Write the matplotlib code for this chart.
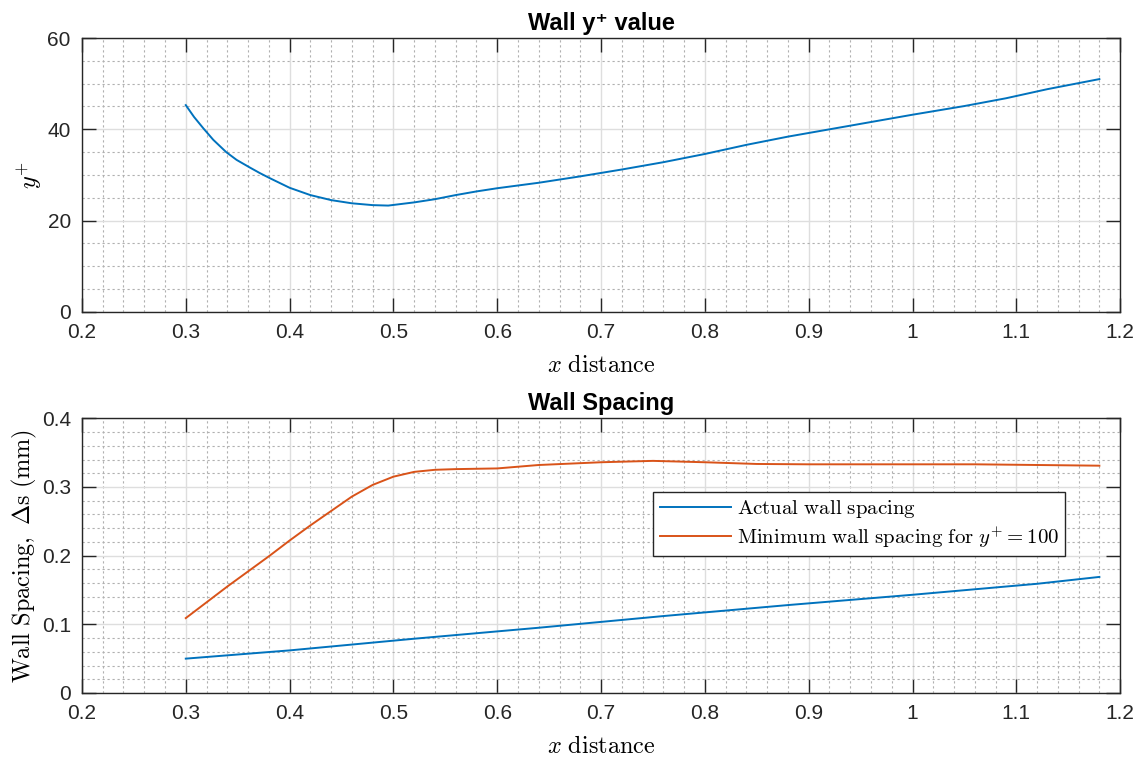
import numpy as np
import matplotlib
matplotlib.use("Agg")
import matplotlib.pyplot as plt
from matplotlib.ticker import MultipleLocator, FuncFormatter

# --- data ---
x_yplus = [0.300, 0.308, 0.317, 0.3265, 0.339, 0.349, 0.362, 0.3715, 0.381, 0.400,
           0.420, 0.440, 0.460, 0.480, 0.495, 0.520, 0.540, 0.560, 0.580, 0.600,
           0.620, 0.640, 0.660, 0.680, 0.720, 0.760, 0.800, 0.840, 0.880, 0.920,
           0.960, 1.000, 1.050, 1.090, 1.130, 1.180]
yplus = [45.3, 42.7, 40.2, 37.7, 35.0, 33.3, 31.6, 30.4, 29.3, 27.2,
         25.6, 24.5, 23.8, 23.4, 23.3, 24.0, 24.7, 25.6, 26.4, 27.1,
         27.7, 28.3, 29.0, 29.7, 31.2, 32.8, 34.6, 36.6, 38.4, 40.0,
         41.6, 43.2, 45.1, 46.8, 48.8, 51.0]

x_min = [0.30, 0.32, 0.34, 0.36, 0.38, 0.40, 0.42, 0.44, 0.46, 0.48, 0.50,
         0.52, 0.54, 0.56, 0.60, 0.64, 0.67, 0.70, 0.75, 0.80, 0.85, 0.90,
         0.96, 1.01, 1.06, 1.12, 1.18]
min_spacing = [0.109, 0.132, 0.155, 0.177, 0.199, 0.222, 0.244, 0.265, 0.286,
               0.303, 0.315, 0.322, 0.325, 0.326, 0.327, 0.332, 0.334, 0.336,
               0.338, 0.336, 0.3335, 0.333, 0.333, 0.333, 0.333, 0.332, 0.331]

x_act = [0.30, 0.40, 0.52, 0.64, 0.76, 0.88, 1.00, 1.12, 1.18]
act_spacing = [0.050, 0.062, 0.079, 0.095, 0.112, 0.128, 0.143, 0.159, 0.169]

xticks = [0.2, 0.3, 0.4, 0.5, 0.6, 0.7, 0.8, 0.9, 1, 1.1, 1.2]
yticks_top = [0, 20, 40, 60]
yticks_bot = [0, 0.1, 0.2, 0.3, 0.4]

plt.rcParams['mathtext.fontset'] = 'cm'
plt.rcParams['font.family'] = ['Liberation Sans', 'DejaVu Sans']

blue = '#0072BD'
orange = '#D95319'
axcol = '#262626'

fig = plt.figure(figsize=(11.43, 7.6), dpi=100)
ax1 = fig.add_axes([0.0717, 0.5895, 0.9083, 0.3605])
ax2 = fig.add_axes([0.0717, 0.0882, 0.9083, 0.3614])

fmt = FuncFormatter(lambda v, p: f"{v:g}")


def style(ax, yticks, ymin):
    ax.set_xlim(0.2, 1.2)
    ax.set_ylim(yticks[0], yticks[-1])
    ax.set_xticks(xticks)
    ax.set_yticks(yticks)
    ax.xaxis.set_major_formatter(fmt)
    ax.yaxis.set_major_formatter(fmt)
    ax.xaxis.set_minor_locator(MultipleLocator(0.02))
    ax.yaxis.set_minor_locator(MultipleLocator(ymin))
    ax.grid(True, which='major', color='#dedede', lw=1.0, ls='-')
    ax.grid(True, which='minor', color='#b0b0b0', lw=0.8, ls=(0, (2, 2.5)))
    ax.set_axisbelow(True)
    ax.tick_params(which='major', direction='in', length=10, width=1,
                   top=True, right=True, labelsize=15, colors=axcol, pad=8)
    ax.tick_params(which='minor', length=0)
    for s in ax.spines.values():
        s.set_color(axcol)
        s.set_linewidth(1.0)


# top panel
ax1.plot(x_yplus, yplus, color=blue, lw=1.4)
style(ax1, yticks_top, 5)
ax1.set_title('Wall y⁺ value', fontsize=17, fontweight='bold', pad=6)
ax1.set_xlabel(r'$x\ \mathrm{distance}$', fontsize=17.5, labelpad=9)
ax1.set_ylabel(r'$y^{+}$', fontsize=17.5, labelpad=2)

# bottom panel
ax2.plot(x_act, act_spacing, color=blue, lw=1.4,
         label=r'$\mathrm{Actual\ wall\ spacing}$')
ax2.plot(x_min, min_spacing, color=orange, lw=1.4,
         label=r'$\mathrm{Minimum\ wall\ spacing\ for\ }y^{+}=100$')
style(ax2, yticks_bot, 0.02)
ax2.set_title('Wall Spacing', fontsize=17, fontweight='bold', pad=6)
ax2.set_xlabel(r'$x\ \mathrm{distance}$', fontsize=17.5, labelpad=9)
ax2.set_ylabel(r'$\mathrm{Wall\ Spacing,\ \Delta s\ (mm)}$', fontsize=17.5, labelpad=2)

leg = ax2.legend(loc='upper right', bbox_to_anchor=(0.947, 0.731), fontsize=15,
                 frameon=True, fancybox=False, framealpha=1, edgecolor=axcol,
                 handlelength=3.4, handletextpad=0.3, borderpad=0.3,
                 labelspacing=0.2, borderaxespad=0)
leg.get_frame().set_linewidth(1.0)

fig.savefig('out.png', dpi=100, facecolor='white')
